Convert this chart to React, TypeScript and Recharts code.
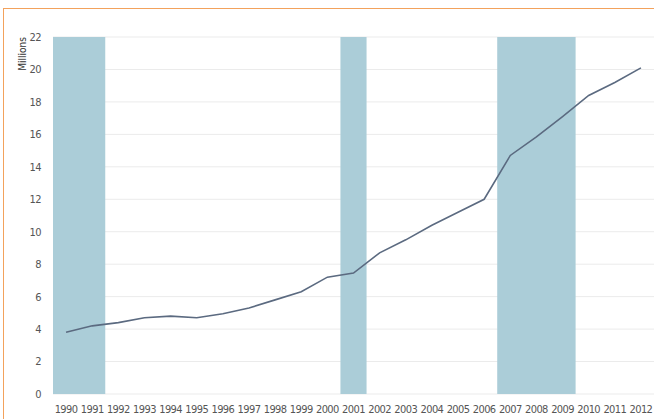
import React from 'react'
import { ComposedChart, Line, XAxis, YAxis, CartesianGrid, ReferenceArea } from 'recharts'

const years = [
  '1990', '1991', '1992', '1993', '1994', '1995', '1996', '1997', '1998', '1999', '2000', '2001',
  '2002', '2003', '2004', '2005', '2006', '2007', '2008', '2009', '2010', '2011', '2012'
]

const millions = [
  3.8, 4.2, 4.4, 4.7, 4.8, 4.7, 4.95, 5.3, 5.8, 6.3, 7.2, 7.45,
  8.7, 9.5, 10.4, 11.2, 12.0, 14.7, 15.85, 17.1, 18.4, 19.2, 20.1
]

// shaded periods (first year, last year)
const recessions = [
  ['1990', '1991'],
  ['2001', '2001'],
  ['2007', '2009']
]

const yTicks = [0, 2, 4, 6, 8, 10, 12, 14, 16, 18, 20, 22]

const data = years.map((year, i) => ({ year, value: millions[i] }))

const FONT = '"DejaVu Sans Condensed", "DejaVu Sans", sans-serif'
const tickStyle = { fontStretch: 'condensed', letterSpacing: '-0.6px' }

const MillionsLabel = () => (
  <text
    x={22}
    y={54}
    transform="rotate(-90 22 54)"
    textAnchor="middle"
    dominantBaseline="central"
    fontFamily={FONT}
    fontSize={10}
    fill="#333"
    style={{ fontStretch: 'condensed' }}
  >
    Millions
  </text>
)

export default function App() {
  return (
    <div
      style={{
        position: 'fixed',
        left: 0,
        top: 0,
        width: 654,
        height: 419,
        background: '#fff',
        overflow: 'hidden'
      }}
    >
      <div
        style={{
          position: 'absolute',
          left: 3,
          top: 8,
          right: 0,
          bottom: 0,
          borderLeft: '1px solid #f3a25c',
          borderTop: '1px solid #f3a25c'
        }}
      />
      <div style={{ position: 'absolute', left: 0, top: 0 }}>
        <ComposedChart width={654} height={419} data={data} margin={{ top: 37, right: 0, bottom: 0, left: 0 }}>
          <CartesianGrid vertical={false} stroke="#ebebeb" />
          <XAxis
            dataKey="year"
            scale="band"
            axisLine={false}
            tickLine={false}
            interval={0}
            height={25}
            tickMargin={5}
            tick={{ fontFamily: FONT, fontSize: 11, fill: '#555', style: tickStyle }}
          />
          <YAxis
            domain={[0, 22]}
            ticks={yTicks}
            width={53}
            axisLine={false}
            tickLine={false}
            tickMargin={6}
            tick={{ fontFamily: FONT, fontSize: 11, fill: '#555', style: tickStyle }}
            label={{ content: () => <MillionsLabel /> }}
          />
          {recessions.map(([start, end]) => (
            <ReferenceArea
              key={start}
              x1={start}
              x2={end}
              y1={0}
              y2={22}
              fill="#abcdd8"
              fillOpacity={1}
              stroke="none"
            />
          ))}
          <Line
            type="linear"
            dataKey="value"
            stroke="#5b6a80"
            strokeWidth={1.6}
            dot={false}
            isAnimationActive={false}
          />
        </ComposedChart>
      </div>
    </div>
  )
}
